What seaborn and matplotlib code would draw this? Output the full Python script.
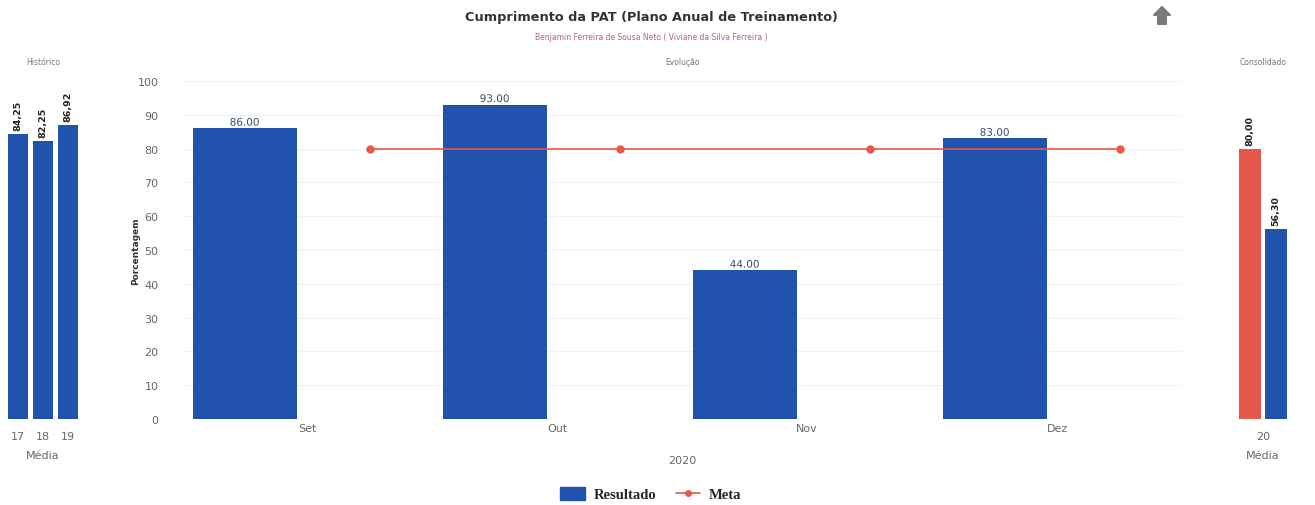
import matplotlib
matplotlib.use("Agg")
import matplotlib.pyplot as plt
import seaborn as sns
import numpy as np
import pandas as pd
from matplotlib.lines import Line2D
from matplotlib.patches import Patch, Polygon
import matplotlib.patheffects as pe

# ---- data ----
hist_years = ["17", "18", "19"]
hist_values = [84.25, 82.25, 86.92]

months = ["Set", "Out", "Nov", "Dez"]
resultado = [86.00, 93.00, 44.00, 83.00]
meta = [80, 80, 80, 80]

cons_year = ["20"]
cons_series = ["Meta", "Resultado"]
cons_values = [80.00, 56.30]

y_ticks = [0, 10, 20, 30, 40, 50, 60, 70, 80, 90, 100]

BLUE = "#2152ad"
RED = "#e5584b"
GRID = "#f1f1f1"
TICK = "#666666"

sns.set_theme(style="white")
plt.rcParams["font.family"] = ["DejaVu Sans"]

W, H = 1315, 506
fig = plt.figure(figsize=(W / 100, H / 100), dpi=100)

def px_axes(x0, x1, ytop=82, ybot=420):
    return fig.add_axes([x0 / W, (H - ybot) / H, (x1 - x0) / W, (ybot - ytop) / H])

def clean(ax):
    for s in ax.spines.values():
        s.set_visible(False)
    ax.tick_params(axis="both", length=0, colors=TICK, labelsize=8)
    ax.set_ylim(0, 100)

# ---- left panel: historical averages ----
axl = px_axes(5.5, 80.5)
hist_df = pd.DataFrame({"ano": hist_years, "valor": hist_values})
sns.barplot(data=hist_df, x="ano", y="valor", color=BLUE, saturation=1,
            width=0.8, linewidth=0, ax=axl)
clean(axl)
axl.set_yticks([])
axl.set_ylabel("")
axl.set_xlabel("Média", color=TICK, fontsize=8, labelpad=6)
axl.tick_params(axis="x", pad=9)
for i, v in enumerate(hist_values):
    axl.text(i, v + 1.2, f"{v:.2f}".replace(".", ","), rotation=90,
             ha="center", va="bottom", fontsize=6.8, fontweight="bold",
             color="#222222")
axl.set_title("Histórico", fontsize=5.5, color="#777777", pad=12)

# ---- main panel: monthly evolution ----
axm = px_axes(182, 1182)
idx = np.arange(len(months))
main_df = pd.DataFrame({"pos": idx - 0.25, "valor": resultado})
sns.barplot(data=main_df, x="pos", y="valor", native_scale=True, color=BLUE,
            saturation=1, width=0.416, linewidth=0, ax=axm, zorder=2)
meta_df = pd.DataFrame({"pos": idx + 0.25, "valor": meta})
sns.lineplot(data=meta_df, x="pos", y="valor", color=RED, marker="o",
             markersize=6, markeredgewidth=0, linewidth=1.2, ax=axm, zorder=3)
clean(axm)
axm.set_xlim(-0.5, len(months) - 0.5)
axm.set_xticks(idx)
axm.set_xticklabels(months)
axm.set_yticks(y_ticks)
axm.tick_params(axis="y", pad=17)
axm.tick_params(axis="x", pad=3)
for y in y_ticks:
    axm.axhline(y, color=GRID, lw=0.8, zorder=0)
axm.set_xlabel("2020", color=TICK, fontsize=8, labelpad=16)
axm.set_ylabel("Porcentagem", color="#333333", fontsize=6.5,
               fontweight="bold", labelpad=-2)
for i, v in enumerate(resultado):
    axm.text(i - 0.25, v + 0.2, f"{v:.2f}", ha="center", va="bottom",
             fontsize=7.5, color="#3a4c75", zorder=4,
             path_effects=[pe.withStroke(linewidth=2, foreground="white")])
axm.set_title("Evolução", fontsize=5.5, color="#777777", pad=12)

# ---- right panel: consolidated ----
axr = px_axes(1233, 1293)
cons_df = pd.DataFrame({"ano": cons_year * len(cons_series),
                        "serie": cons_series, "valor": cons_values})
sns.barplot(data=cons_df, x="ano", y="valor", hue="serie",
            palette={"Meta": RED, "Resultado": BLUE}, saturation=1,
            width=0.85, gap=0.14, linewidth=0, ax=axr, legend=False)
clean(axr)
axr.set_yticks([])
axr.set_ylabel("")
axr.set_xlabel("Média", color=TICK, fontsize=8, labelpad=6)
axr.tick_params(axis="x", pad=9)
for bar, v in zip(axr.patches, cons_values):
    cx = bar.get_x() + bar.get_width() / 2
    axr.text(cx, v + 1.2, f"{v:.2f}".replace(".", ","), rotation=90,
             ha="center", va="bottom", fontsize=6.8, fontweight="bold",
             color="#222222")
axr.set_title("Consolidado", fontsize=5.5, color="#777777", pad=12)

# ---- titles ----
fig.text(651 / W, 1 - 17 / H, "Cumprimento da PAT (Plano Anual de Treinamento)",
         ha="center", va="center", fontsize=9.3, fontweight="bold",
         color="#333333")
fig.text(651 / W, 1 - 38 / H,
         "Benjamin Ferreira de Sousa Neto ( Viviane da Silva Ferreira )",
         ha="center", va="center", fontsize=5.5, color="#b5656a")

# export arrow icon (top right)
ax_x, ax_y = 1162, 17
arrow_px = [(0, -9), (8, -1), (4, -1), (4, 8), (-4, 8), (-4, -1), (-8, -1)]
arrow = Polygon([((ax_x + dx) / W, 1 - (ax_y + dy) / H) for dx, dy in arrow_px],
                closed=True, transform=fig.transFigure, facecolor="#7a7a7a",
                edgecolor="#7a7a7a", linewidth=1.5, joinstyle="round")
fig.patches.append(arrow)

# ---- legend ----
handles = [
    Patch(facecolor=BLUE, edgecolor=BLUE, label="Resultado"),
    Line2D([0], [0], color=RED, marker="o", markersize=5,
           markeredgewidth=0, lw=1.2, label="Meta"),
]
fig.legend(handles=handles, loc="center", bbox_to_anchor=(651 / W, 1 - 495 / H),
           ncol=2, frameon=False, handlelength=1.7, handleheight=1.0,
           columnspacing=1.3, handletextpad=0.6,
           prop={"family": "Liberation Serif", "weight": "bold", "size": 10.5})

fig.savefig("out.png", dpi=100)
